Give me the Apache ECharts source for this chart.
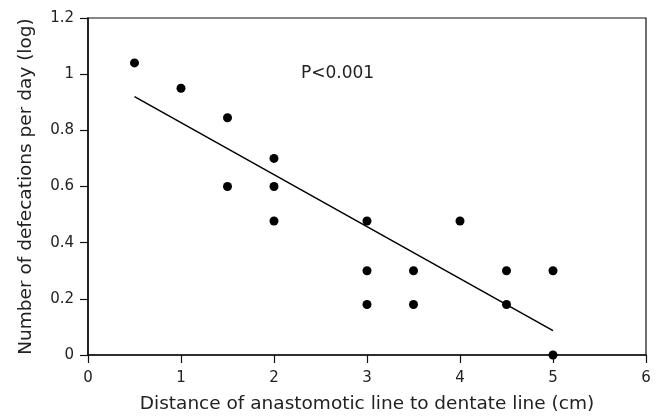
<!DOCTYPE html>
<html><head><meta charset="utf-8">
<script src="https://cdn.jsdelivr.net/npm/echarts@6/dist/echarts.min.js"></script>
<style>html,body{margin:0;padding:0;background:#fff}#c{width:661px;height:416px}</style>
</head><body><div id="c"></div>
<script>
const distX = [0.5, 1, 1.5, 1.5, 2, 2, 2, 3, 3, 3, 3.5, 3.5, 4, 4.5, 4.5, 5, 5];
const logDefec = [1.04, 0.95, 0.845, 0.60, 0.70, 0.60, 0.477, 0.477, 0.30, 0.18, 0.30, 0.18, 0.477, 0.30, 0.18, 0.30, 0.0];
const fitX = [0.5, 5];
const fitY = [0.92, 0.087];
const annotation = 'P<0.001';
const xTitle = 'Distance of anastomotic line to dentate line (cm)';
const yTitle = 'Number of defecations per day (log)';

const chart = echarts.init(document.getElementById('c'), null, {renderer: 'canvas'});
const font = 'DejaVu Sans, Liberation Sans, Arial, sans-serif';
const axisCommon = {
  axisLine: {show: true, onZero: false, lineStyle: {color: '#111', width: 1.6}},
  axisTick: {show: true, inside: false, length: 8, lineStyle: {color: '#111', width: 1.2}},
  splitLine: {show: false},
  axisLabel: {color: '#222', fontSize: 15, fontFamily: font},
  nameTextStyle: {color: '#222', fontSize: 18.5, fontFamily: font}
};
chart.setOption({
  animation: false,
  backgroundColor: '#fff',
  grid: {left: 88, right: 15, top: 18, bottom: 61, show: true, borderColor: '#111', borderWidth: 1.2,
         containLabel: false, outerBoundsMode: 'none'},
  xAxis: Object.assign({}, axisCommon, {
    type: 'value', min: 0, max: 6, interval: 1,
    name: xTitle, nameLocation: 'middle', nameGap: 40,
    axisLabel: Object.assign({}, axisCommon.axisLabel, {margin: 16})
  }),
  yAxis: Object.assign({}, axisCommon, {
    type: 'value', min: 0, max: 1.2, interval: 0.2,
    name: yTitle, nameLocation: 'middle', nameGap: 52,
    axisLabel: Object.assign({}, axisCommon.axisLabel, {margin: 14})
  }),
  graphic: [{
    type: 'text', left: 301, top: 65,
    style: {text: annotation, fill: '#222', font: '17px ' + font}
  }],
  series: [
    {
      type: 'scatter', symbol: 'circle', symbolSize: 9,
      itemStyle: {color: '#000', opacity: 1},
      data: distX.map((x, i) => [x, logDefec[i]]), z: 3
    },
    {
      type: 'line', symbol: 'none', lineStyle: {color: '#000', width: 1.5},
      data: fitX.map((x, i) => [x, fitY[i]]), z: 2
    }
  ]
});
</script></body></html>
